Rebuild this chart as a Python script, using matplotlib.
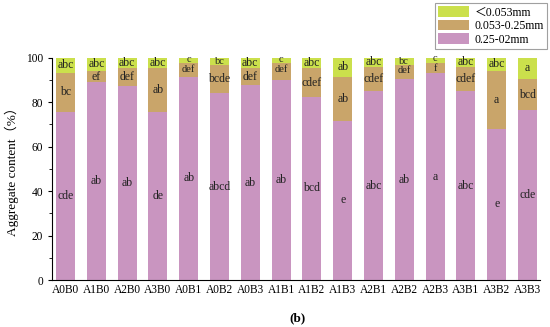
import matplotlib
matplotlib.use("Agg")
import matplotlib.pyplot as plt
import numpy as np
from matplotlib.ticker import MultipleLocator

categories = ["A0B0", "A1B0", "A2B0", "A3B0", "A0B1", "A0B2", "A0B3", "A1B1",
              "A1B2", "A1B3", "A2B1", "A2B2", "A2B3", "A3B1", "A3B2", "A3B3"]
large = [75.6, 88.8, 87.3, 75.4, 91.4, 83.9, 87.6, 89.9,
         82.4, 71.5, 84.9, 90.2, 92.9, 84.9, 67.9, 76.4]
mid = [17.6, 5.3, 7.8, 19.7, 6.0, 12.7, 7.5, 7.5,
       12.7, 19.9, 11.0, 6.4, 4.8, 11.0, 26.2, 13.9]
small = [100 - a - b for a, b in zip(large, mid)]

lab_large = ["cde", "ab", "ab", "de", "ab", "abcd", "ab", "ab",
             "bcd", "e", "abc", "ab", "a", "abc", "e", "cde"]
lab_mid = ["bc", "ef", "def", "ab", "def", "bcde", "def", "def",
           "cdef", "ab", "cdef", "def", "f", "cdef", "a", "bcd"]
lab_small = ["abc", "abc", "abc", "abc", "c", "bc", "abc", "c",
             "abc", "ab", "abc", "bc", "c", "abc", "abc", "a"]

series_names = ["\uff1c0.053mm", "0.053-0.25mm", "0.25-02mm"]
c_small, c_mid, c_large = "#cbe04c", "#c9a56a", "#c995c0"

fam = ["Liberation Serif", "Noto Sans CJK SC"]
plt.rcParams["font.family"] = fam

fig = plt.figure(figsize=(5.5, 3.27), dpi=100)
ax = fig.add_axes([0.0945, 0.1437, 0.8875, 0.6803])
x = np.arange(len(categories))
w = 0.62
b1 = ax.bar(x, large, w, color=c_large, label=series_names[2])
b2 = ax.bar(x, mid, w, bottom=large, color=c_mid, label=series_names[1])
bot3 = [a + b for a, b in zip(large, mid)]
b3 = ax.bar(x, small, w, bottom=bot3, color=c_small, label=series_names[0])

fs = 8.5
tc = "#222222"
for i in x:
    ax.text(i, large[i] / 2, lab_large[i], ha="center", va="center", fontsize=fs, color=tc)
    if small[i] < 4:
        ax.text(i, bot3[i] - 0.3, lab_small[i], ha="center", va="bottom",
                fontsize=7.5, color=tc)
        if mid[i] < 9:
            ax.text(i, bot3[i] - 0.6, lab_mid[i], ha="center", va="top",
                    fontsize=7.5, color=tc)
        else:
            ax.text(i, large[i] + mid[i] / 2, lab_mid[i], ha="center", va="center",
                    fontsize=fs, color=tc)
    else:
        ax.text(i, large[i] + mid[i] / 2, lab_mid[i], ha="center", va="center",
                fontsize=fs, color=tc)
        ax.text(i, bot3[i] + small[i] / 2, lab_small[i], ha="center", va="center",
                fontsize=fs, color=tc)

ax.set_xlim(-0.44, 15.41)
ax.set_ylim(0, 100)
ax.set_xticks(x)
ax.set_xticklabels(categories, fontsize=8.3)
ax.tick_params(axis="x", length=0, pad=3)
ax.yaxis.set_major_locator(MultipleLocator(20))
ax.yaxis.set_minor_locator(MultipleLocator(10))
ax.tick_params(axis="y", which="major", length=3, labelsize=8.3, direction="out")
ax.tick_params(axis="y", which="minor", length=2, direction="out")
for s in ["top", "right"]:
    ax.spines[s].set_visible(False)
for s in ["left", "bottom"]:
    ax.spines[s].set_linewidth(0.8)
ax.set_ylabel("Aggregate content\uff08%\uff09", fontsize=9.5, labelpad=5)

leg = fig.legend(handles=[b3, b2, b1], labels=series_names, loc="upper right",
                 bbox_to_anchor=(0.995, 0.99), borderaxespad=0, fontsize=8.5, frameon=True,
                 fancybox=False, edgecolor="#888", handlelength=2.6, handleheight=1.0,
                 borderpad=0.25, labelspacing=0.1, handletextpad=0.5)
leg.get_frame().set_linewidth(0.8)

fig.text(0.54, 0.028, "(b)", ha="center", va="center", fontsize=9.5, fontweight="bold")

fig.savefig("out.png", dpi=100)
